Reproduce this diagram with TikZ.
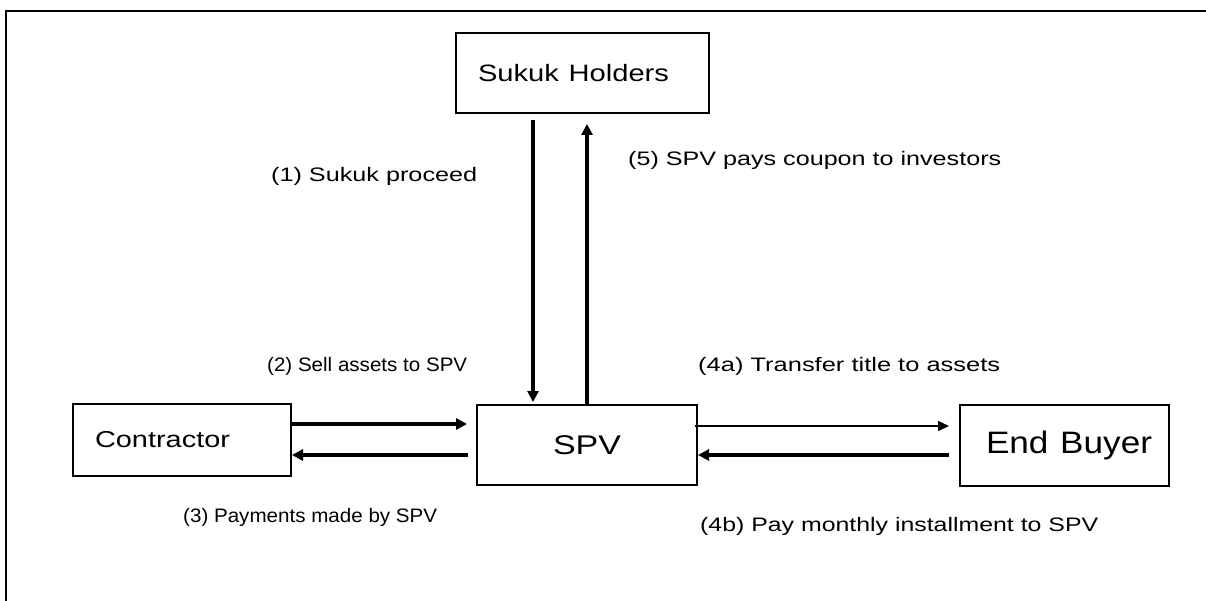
\documentclass[tikz,border=0pt]{standalone}
\usepackage{fontspec}
\setmainfont{Liberation Sans}
\usetikzlibrary{arrows.meta}
% stretch a text horizontally to a given width, keeping its height
\newcommand{\wide}[2]{\resizebox{#1}{\height}{#2}}
\begin{document}
\begin{tikzpicture}[x=1pt,y=-1pt,
  box/.style={draw, line width=2pt, inner sep=0pt},
  lbl/.style={anchor=west, inner sep=0pt, font=\fontsize{19.5}{20}\selectfont},
  fat/.style={line width=3.5pt, -{Triangle[length=11pt,width=11pt]}},
  slim/.style={line width=1.5pt, -{Triangle[length=11pt,width=10pt]}}]
\useasboundingbox (0,0) rectangle (1206,601);
% outer frame (only the top and left edges fall inside the page)
\draw[line width=2.2pt] (6,700) -- (6,11) -- (1300,11);

% parties
\node[box, minimum width=253pt, minimum height=80pt, text width=209pt,
      inner xsep=22pt, align=left, font=\fontsize{23.7}{24}\selectfont]
      (sukuk) at (582.5,73) {\wide{191pt}{Sukuk Holders}};
\node[box, minimum width=218pt, minimum height=72pt, text width=174pt,
      inner xsep=22pt, align=left, font=\fontsize{23}{24}\selectfont]
      (contractor) at (182,440) {\wide{135pt}{Contractor}};
\node[box, minimum width=220pt, minimum height=80pt,
      font=\fontsize{27}{28}\selectfont]
      (spv) at (587,445) {\wide{68pt}{SPV}};
\node[box, minimum width=209pt, minimum height=81pt, text width=157pt,
      inner xsep=26pt, align=left, font=\fontsize{31}{32}\selectfont]
      (buyer) at (1064.5,445) {\wide{166pt}{End Buyer}};

% flows
\draw[fat] ([xshift=-49.5pt,yshift=-6pt]sukuk.south) -- ([xshift=-54pt,yshift=2pt]spv.north);
\draw[fat] (spv.north) -- ([xshift=4.5pt,yshift=-10pt]sukuk.south);
\draw[fat] ([yshift=16pt]contractor.east) -- ([xshift=-9pt,yshift=21pt]spv.west);
\draw[fat] ([xshift=-8pt,yshift=-10pt]spv.west) -- ([yshift=-15pt]contractor.east);
\draw[slim] ([xshift=-3pt,yshift=19pt]spv.east) -- ([xshift=-10pt,yshift=19pt]buyer.west);
\draw[fat] ([xshift=-10pt,yshift=-10pt]buyer.west) -- ([yshift=-10pt]spv.east);

% flow labels
\node[lbl] (l1) at (271,176) {\wide{206pt}{(1) Sukuk proceed}};
\node[lbl] (l5) at (628,160) {\wide{373pt}{(5) SPV pays coupon to investors}};
\node[lbl] (l2) at (267,366) {\wide{200pt}{(2) Sell assets to SPV}};
\node[lbl] (l4a) at (698,366) {\wide{302pt}{(4a) Transfer title to assets}};
\node[lbl] (l3) at (183,517) {\wide{254pt}{(3) Payments made by SPV}};
\node[lbl] (l4b) at (700,526) {\wide{398pt}{(4b) Pay monthly installment to SPV}};
\end{tikzpicture}
\end{document}
